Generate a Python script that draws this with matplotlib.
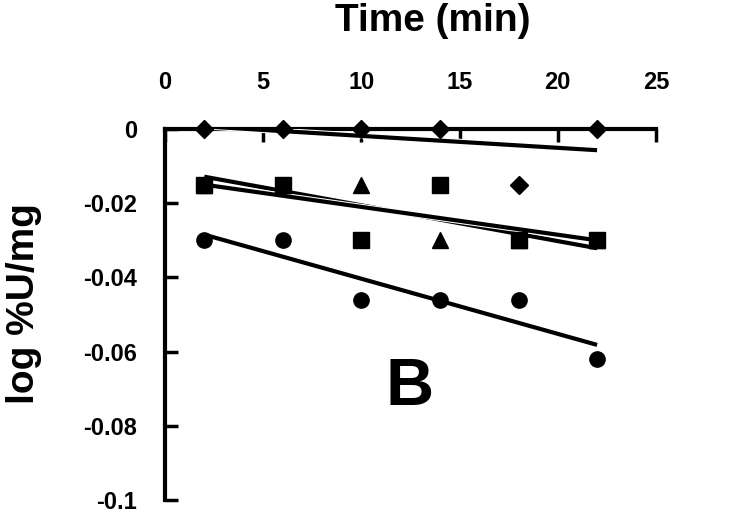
import numpy as np
import matplotlib
matplotlib.use("Agg")
import matplotlib.pyplot as plt
import matplotlib.patheffects as pe
from matplotlib.ticker import FuncFormatter

plt.rcParams['font.family'] = ['Liberation Sans', 'DejaVu Sans']
plt.rcParams['font.weight'] = 'bold'
plt.rcParams['axes.unicode_minus'] = False

# data
time = [2, 6, 10, 14, 18, 22]
diamonds = [0.0, 0.0, 0.0, 0.0, -0.015, 0.0]
squares = [-0.015, -0.015, -0.030, -0.015, -0.030, -0.030]
triangles = [-0.015, -0.015, -0.015, -0.030, -0.030, -0.030]
circles = [-0.030, -0.030, -0.046, -0.046, -0.046, -0.062]
x_ticks = [0, 5, 10, 15, 20, 25]
y_ticks = [0, -0.02, -0.04, -0.06, -0.08, -0.1]

fig = plt.figure(figsize=(7.44, 5.21), dpi=100)
ax = fig.add_axes([0.2218, 0.0403, 0.6599, 0.7121])

series = [(triangles, '^', 11), (squares, 's', 11), (circles, 'o', 11), (diamonds, 'D', 9.5)]
t = np.array(time)
for vals, m, ms in series:
    ax.plot(time, vals, linestyle='none', marker=m, color='black',
            markersize=ms, zorder=4, clip_on=False)
    # linear trend line through each series
    k, b = np.polyfit(t, np.array(vals), 1)
    ax.plot([t[0], t[-1]], [k * t[0] + b, k * t[-1] + b], color='black',
            linewidth=3, zorder=3, solid_capstyle='butt',
            path_effects=[pe.Stroke(linewidth=4.5, foreground='white'), pe.Normal()])

ax.set_xlim(0, 25)
ax.set_ylim(-0.1, 0)
ax.set_xticks(x_ticks)
ax.set_yticks(y_ticks)
ax.yaxis.set_major_formatter(FuncFormatter(lambda v, p: '%g' % v))

ax.xaxis.tick_top()
ax.xaxis.set_label_position('top')
ax.spines['right'].set_visible(False)
ax.spines['bottom'].set_visible(False)
ax.spines['top'].set_linewidth(3)
ax.spines['left'].set_linewidth(3)
ax.tick_params(axis='x', direction='in', length=9, width=2.5, pad=25, labelsize=17)
ax.tick_params(axis='y', direction='in', length=9, width=2.5, pad=20, labelsize=17)
for lab in ax.get_xticklabels() + ax.get_yticklabels():
    lab.set_fontweight('bold')

ax.set_xlabel('Time (min)', fontsize=28, fontweight='bold')
ax.xaxis.set_label_coords(0.545, 1.265)
ax.set_ylabel('log %U/mg', fontsize=28, fontweight='bold')
ax.yaxis.set_label_coords(-0.25, 0.53)
ax.text(12.47, -0.0697, 'B', fontsize=48, fontweight='bold', ha='center', va='center')

fig.savefig('out.png', dpi=100)
